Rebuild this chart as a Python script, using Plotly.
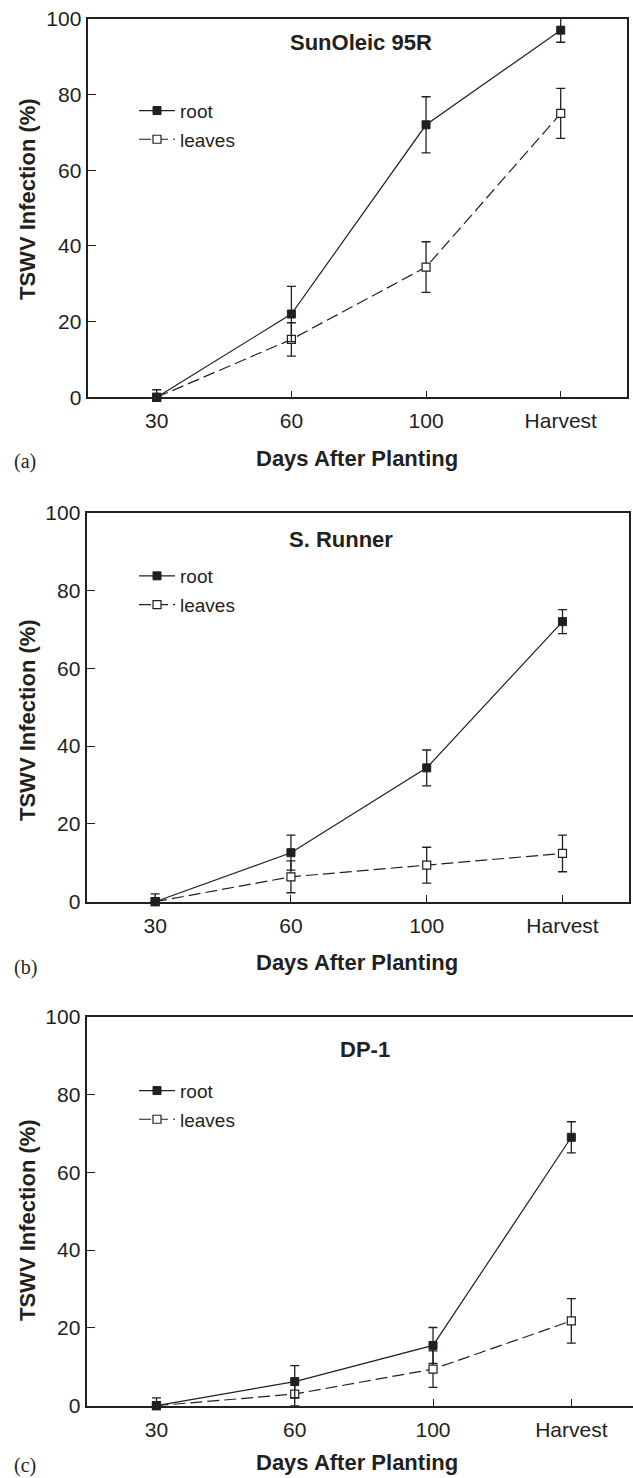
import plotly.graph_objects as go

W, H = 633, 1478

days = ["30", "60", "100", "Harvest"]
y_ticks = [0, 20, 40, 60, 80, 100]

# Panel (a) SunOleic 95R
a_root = [0, 22, 72, 97]
a_root_err = [2, 7.3, 7.4, 3.2]
a_root_err_lo = [0, 7.3, 7.4, 3.2]
a_leaves = [0, 15.3, 34.4, 75]
a_leaves_err = [0, 4.4, 6.7, 6.6]

# Panel (b) S. Runner
b_root = [0, 12.6, 34.4, 72]
b_root_err = [2, 4.5, 4.6, 3.1]
b_root_err_lo = [0, 4.5, 4.6, 3.1]
b_leaves = [0, 6.4, 9.4, 12.4]
b_leaves_err = [0, 4.1, 4.6, 4.7]

# Panel (c) DP-1
c_root = [0, 6.2, 15.5, 69]
c_root_err = [2, 4.1, 4.6, 4.0]
c_root_err_lo = [0, 4.1, 4.6, 4.0]
c_leaves = [0, 3.0, 9.4, 21.8]
c_leaves_err = [0, 3.0, 4.7, 5.7]

titles = ["SunOleic 95R", "S. Runner", "DP-1"]
letters = ["(a)", "(b)", "(c)"]
series_names = ["root", "leaves"]
x_title = "Days After Planting"
y_title = "TSWV Infection (%)"

INK = "#231f20"
SANS = "Liberation Sans, Arial, Helvetica, sans-serif"
SERIF = "Liberation Serif, Times New Roman, serif"

# panel geometry in pixels
panels = [
    dict(l=88.3, r=626.7, t=18.8, b=397.3, xr=[-0.508, 3.49], frame=True,
         title_x=288, title_y=43, leg_y=110.7, ytitle_y=199, xt_y=459, let_y=461),
    dict(l=87.3, r=629.0, t=512.7, b=901.7, xr=[-0.5, 3.49], frame=True,
         title_x=287.3, title_y=539, leg_y=576, ytitle_y=720, xt_y=963, let_y=967),
    dict(l=87.3, r=633.0, t=1016.7, b=1405.7, xr=[-0.5, 3.446], frame=False,
         title_x=338, title_y=1049.5, leg_y=1090.7, ytitle_y=1220, xt_y=1462, let_y=1465),
]

data = [
    (a_root, a_root_err, a_root_err_lo, a_leaves, a_leaves_err),
    (b_root, b_root_err, b_root_err_lo, b_leaves, b_leaves_err),
    (c_root, c_root_err, c_root_err_lo, c_leaves, c_leaves_err),
]

def px(x):
    return x / W

def py(y):
    return 1 - y / H

fig = go.Figure()
annotations = []
layout_axes = {}

for i, (p, d) in enumerate(zip(panels, data)):
    n = "" if i == 0 else str(i + 1)
    xa, ya = "x" + n, "y" + n
    leg = "legend" + n
    root, root_err, root_err_lo, leaves, leaves_err = d

    # leaves drawn first so the filled root marker sits on top at day 30
    fig.add_trace(go.Scatter(
        x=days, y=leaves, xaxis=xa, yaxis=ya, name=series_names[1],
        mode="lines+markers", legend=leg, legendgroup=f"{i}leaves", legendrank=2,
        line=dict(color=INK, width=1.2, dash="12px,5px"),
        marker=dict(symbol="square", size=8, color="white", line=dict(color=INK, width=1.2)),
        error_y=dict(type="data", array=leaves_err, visible=True, color=INK,
                     thickness=1.3, width=4.5),
        cliponaxis=False,
    ))
    fig.add_trace(go.Scatter(
        x=days, y=root, xaxis=xa, yaxis=ya, name=series_names[0],
        mode="lines+markers", legend=leg, legendgroup=f"{i}root", legendrank=1,
        line=dict(color=INK, width=1.2, dash="solid"),
        marker=dict(symbol="square", size=8, color=INK, line=dict(color=INK, width=1)),
        error_y=dict(type="data", array=root_err, arrayminus=root_err_lo, symmetric=False,
                     visible=True, color=INK, thickness=1.3, width=4.5),
        cliponaxis=False,
    ))

    layout_axes["xaxis" + n] = dict(
        domain=[px(p["l"]), px(p["r"])], anchor=ya, type="category",
        categoryorder="array", categoryarray=days,
        range=p["xr"], tickvals=days, ticktext=days,
        ticks="inside", ticklen=7, tickwidth=1.2, tickcolor=INK,
        showline=True, linecolor=INK, linewidth=1.5, mirror=True,
        showgrid=False, zeroline=False, automargin=False,
        tickfont=dict(family=SANS, size=21, color=INK),
        ticklabelstandoff=4,
    )
    layout_axes["yaxis" + n] = dict(
        domain=[py(p["b"]), py(p["t"])], anchor=xa,
        range=[0, 100], tickvals=y_ticks,
        ticks="inside", ticklen=8, tickwidth=1.2, tickcolor=INK,
        showline=True, linecolor=INK, linewidth=1.5, mirror=p["frame"],
        showgrid=False, zeroline=False, automargin=False,
        tickfont=dict(family=SANS, size=21, color=INK),
        ticklabelstandoff=1,
    )
    layout_axes[leg] = dict(
        x=px(134), y=py(p["leg_y"] - 19), xanchor="left", yanchor="top",
        bgcolor="rgba(0,0,0,0)", borderwidth=0, itemwidth=36,
        font=dict(family=SANS, size=19, color=INK),
        tracegroupgap=1, itemclick=False, itemdoubleclick=False,
    )

    annotations.append(dict(
        text=f"<b>{titles[i]}</b>", xref="paper", yref="paper",
        x=px(p["title_x"]), y=py(p["title_y"]), xanchor="left", yanchor="middle",
        showarrow=False, font=dict(family=SANS, size=22, color=INK),
    ))
    annotations.append(dict(
        text=f"<b>{x_title}</b>", xref="paper", yref="paper",
        x=px(356.5), y=py(p["xt_y"]), xanchor="center", yanchor="middle",
        showarrow=False, font=dict(family=SANS, size=22, color=INK),
    ))
    annotations.append(dict(
        text=f"<b>{y_title}</b>", xref="paper", yref="paper",
        x=px(27), y=py(p["ytitle_y"]), xanchor="center", yanchor="middle",
        textangle=-90, showarrow=False, font=dict(family=SANS, size=22, color=INK),
    ))
    annotations.append(dict(
        text=letters[i], xref="paper", yref="paper",
        x=px(12), y=py(p["let_y"]), xanchor="left", yanchor="middle",
        showarrow=False, font=dict(family=SERIF, size=20, color=INK),
    ))

fig.update_layout(
    width=W, height=H, margin=dict(l=0, r=0, t=0, b=0, pad=0),
    paper_bgcolor="white", plot_bgcolor="white",
    annotations=annotations, showlegend=True,
    **layout_axes,
)

fig.write_html("out.html", config={"displayModeBar": False})
